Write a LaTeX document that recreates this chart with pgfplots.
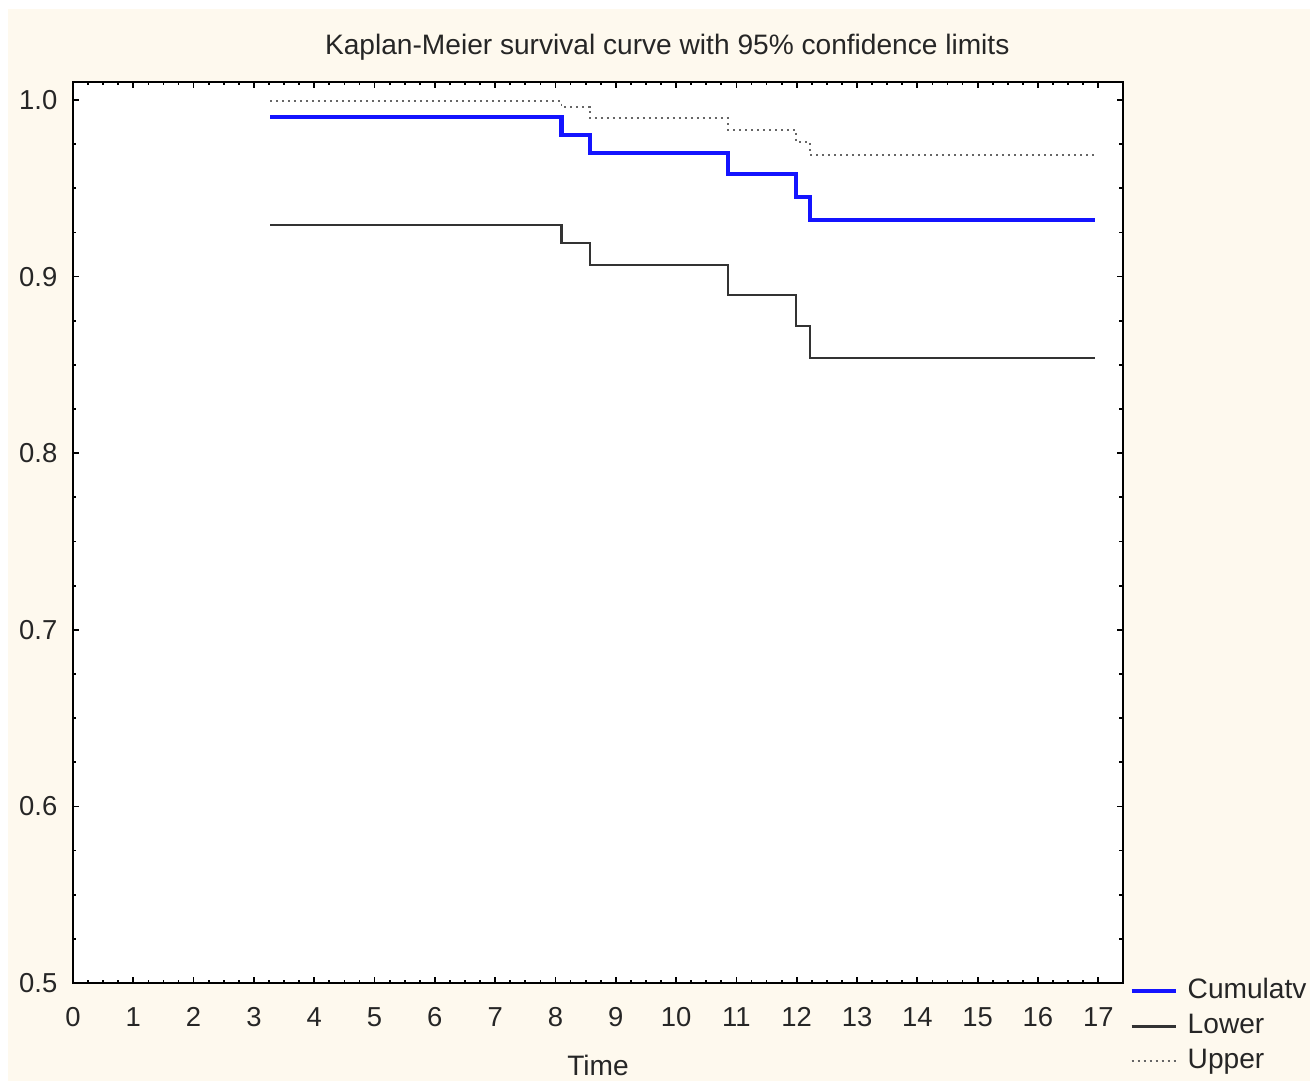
\documentclass[border=0pt]{standalone}
\usepackage{pgfplots}
\pgfplotsset{compat=1.18}
\usepackage{fontspec}
\setmainfont{Liberation Sans}
\definecolor{cream}{HTML}{FEF9EE}
\definecolor{kmblue}{HTML}{1414FF}
\begin{document}
\begin{tikzpicture}
\path[use as bounding box] (-7.3mm,-10.1mm) rectangle (123.9mm,98.3mm);
\fill[white] (-7.3mm,-10.1mm) rectangle (123.9mm,98.3mm);
\fill[cream] (-6.5mm,-9.8mm) rectangle (123.7mm,97.4mm);
\begin{axis}[
  scale only axis,
  width=105mm, height=90.1mm,
  xmin=0, xmax=17.41, ymin=0.5, ymax=1.0102,
  axis background/.style={fill=white},
  axis line style={black, line width=0.55pt},
  xtick={0,1,...,17},
  ytick={0.5,0.6,0.7,0.8,0.9,1.0},
  minor x tick num=3, minor y tick num=3,
  tick align=inside,
  major tick length=0.6mm, minor tick length=0.35mm,
  tick style={black, line width=0.5pt},
  /pgf/number format/assume math mode=true,
  yticklabel style={/pgf/number format/fixed, /pgf/number format/fixed zerofill, /pgf/number format/precision=1, anchor=east, inner sep=0pt, xshift=-1.5mm},
  xticklabel style={anchor=center, inner sep=0pt, yshift=-3.4mm},
  ticklabel style={font=\fontsize{7.8}{9}\selectfont, text=black!85},
  title={Kaplan-Meier survival curve with 95\% confidence limits},
  title style={at={(0.566,1)}, anchor=center, yshift=1.4mm, font=\fontsize{8}{9.6}\selectfont, text=black!85},
  xlabel={Time},
  xlabel style={at={(0.5,0)}, anchor=center, yshift=-8.2mm, font=\fontsize{8}{9.6}\selectfont, text=black!85},
  legend style={at={(1.0057,0.009)}, anchor=north west, draw=none, fill=none, inner sep=0pt,
    font=\fontsize{8}{9.6}\selectfont, text=black!85, row sep=0.4mm,
    nodes={inner sep=0.3mm}, column sep=0.7mm},
  legend cell align=left,
  legend image code/.code={\draw[#1] (0mm,0mm) -- (4.4mm,0mm);},
]
\addplot[const plot, kmblue, line width=1.15pt] coordinates {
 (3.27,0.9906) (8.10,0.980) (8.57,0.9698) (10.86,0.958) (11.99,0.9453) (12.22,0.932) (16.95,0.932)};
\addlegendentry{Cumulatv}
\addplot[const plot, black!80, line width=0.6pt] coordinates {
 (3.27,0.9292) (8.10,0.919) (8.57,0.9065) (10.86,0.8897) (11.99,0.8718) (12.22,0.8539) (16.95,0.8539)};
\addlegendentry{Lower}
\addplot[const plot, black!60, line width=0.55pt, dash pattern=on 0.2mm off 0.4mm] coordinates {
 (3.27,0.9995) (8.10,0.9962) (8.57,0.9897) (10.86,0.983) (11.99,0.9762) (12.22,0.969) (16.95,0.969)};
\addlegendentry{Upper}
\end{axis}
\end{tikzpicture}
\end{document}
